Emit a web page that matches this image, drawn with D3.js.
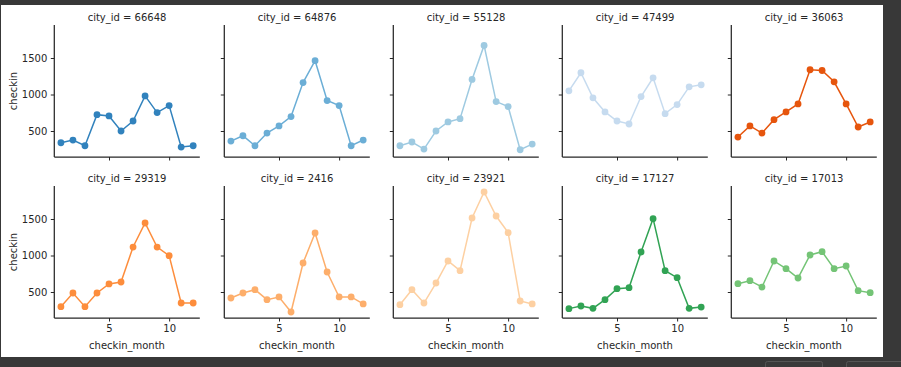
<!DOCTYPE html>
<html>
<head>
<meta charset="utf-8">
<script src="https://cdn.jsdelivr.net/npm/d3@7"></script>
<style>
  html, body { margin: 0; padding: 0; background: #383838; }
  svg { display: block; }
  text { font-family: "DejaVu Sans", sans-serif; fill: #262626; }
</style>
</head>
<body>
<svg id="chart" width="901" height="367"></svg>
<script>
// ---- data ----
const months = [1,2,3,4,5,6,7,8,9,10,11,12];
const cityIds = ["66648","64876","55128","47499","36063","29319","2416","23921","17127","17013"];
const checkin_66648 = [339,376,298,724,706,500,637,981,752,848,280,298];
const checkin_64876 = [362,435,298,472,569,697,1164,1463,917,848,298,376];
const checkin_55128 = [298,349,252,500,624,669,1206,1673,903,834,243,321];
const checkin_47499 = [1050,1298,954,761,637,596,972,1229,738,862,1105,1133];
const checkin_36063 = [417,569,472,655,761,871,1339,1329,1174,871,555,624];
const checkin_29319 = [299,486,299,486,610,637,1116,1445,1116,998,349,349];
const checkin_2416  = [418,486,532,395,432,226,897,1308,774,432,432,336];
const checkin_23921 = [326,532,349,623,925,792,1514,1870,1541,1313,377,336];
const checkin_17127 = [272,308,276,395,546,559,1048,1505,792,696,276,294];
const checkin_17013 = [614,655,568,925,820,692,1007,1052,820,856,518,491];
const seriesValues = [checkin_66648, checkin_64876, checkin_55128, checkin_47499, checkin_36063,
                      checkin_29319, checkin_2416, checkin_23921, checkin_17127, checkin_17013];
const colors = ["#3182bd","#6baed6","#9ecae1","#c6dbef","#e6550d",
                "#fd8d3c","#fdae6b","#fdd0a2","#31a354","#74c476"];
const xTicks = [5, 10];
const yTicks = [500, 1000, 1500];

// ---- layout ----
const svg = d3.select("#chart");
svg.append("rect").attr("x", 0).attr("y", 0).attr("width", 901).attr("height", 367).attr("fill", "#383838");
svg.append("rect").attr("x", 1).attr("y", 5).attr("width", 882).attr("height", 352).attr("fill", "#ffffff");

// bottom-right UI buttons (partially visible)
[[765, 57], [846, 60]].forEach(([bx, bw]) => {
  svg.append("rect").attr("x", bx + 0.5).attr("y", 361.5).attr("width", bw).attr("height", 12).attr("rx", 2)
    .attr("fill", "#3a3a3a").attr("stroke", "#555").attr("stroke-width", 1);
});

const panelW = 145.5, panelH = 132;
const lefts = [54.3, 224.3, 393.3, 562.3, 731.3];
const tops = [25, 186];

const allVals = seriesValues.flat();
const vmin = d3.min(allVals), vmax = d3.max(allVals);
const pad = (vmax - vmin) * 0.05;
const yDomain = [vmin - pad, vmax + pad];
const xDomain = [1 - 0.55, 12 + 0.55];

const ink = "#262626";

cityIds.forEach((cid, i) => {
  const row = Math.floor(i / 5), col = i % 5;
  const x0 = lefts[col], y0 = tops[row];
  const g = svg.append("g").attr("transform", `translate(${x0},${y0})`);
  const x = d3.scaleLinear().domain(xDomain).range([0, panelW]);
  const y = d3.scaleLinear().domain(yDomain).range([panelH, 0]);

  const xAxis = d3.axisBottom(x).tickValues(xTicks).tickSize(3.5).tickPadding(3.5)
    .tickFormat(row === 1 ? d3.format("d") : () => "");
  const yAxis = d3.axisLeft(y).tickValues(yTicks).tickSize(3.5).tickPadding(3.5)
    .tickFormat(col === 0 ? d3.format("d") : () => "");

  const gx = g.append("g").attr("transform", `translate(0,${panelH})`).call(xAxis);
  const gy = g.append("g").call(yAxis);
  [gx, gy].forEach(a => {
    a.select(".domain").remove();
    a.selectAll("line").attr("stroke", ink).attr("stroke-width", 1);
    a.selectAll("text").attr("font-size", 10).attr("fill", ink).style("font-family", '"DejaVu Sans", sans-serif');
  });
  // spines
  g.append("line").attr("x1", 0).attr("x2", 0).attr("y1", 0).attr("y2", panelH)
    .attr("stroke", ink).attr("stroke-width", 1.25);
  g.append("line").attr("x1", 0).attr("x2", panelW).attr("y1", panelH).attr("y2", panelH)
    .attr("stroke", ink).attr("stroke-width", 1.25);

  const vals = seriesValues[i];
  const pts = months.map((m, k) => [m, vals[k]]);
  g.append("path").datum(pts)
    .attr("d", d3.line().x(d => x(d[0])).y(d => y(d[1])))
    .attr("fill", "none").attr("stroke", colors[i]).attr("stroke-width", 1.5);
  g.selectAll("circle").data(pts).enter().append("circle")
    .attr("cx", d => x(d[0])).attr("cy", d => y(d[1])).attr("r", 3.4)
    .attr("fill", colors[i]);

  g.append("text").attr("x", panelW / 2).attr("y", -4.5).attr("text-anchor", "middle")
    .attr("font-size", 10).text(`city_id = ${cid}`);

  if (col === 0) {
    g.append("text").attr("transform", `translate(${-37},${panelH / 2}) rotate(-90)`)
      .attr("text-anchor", "middle").attr("font-size", 10).text("checkin");
  }
  if (row === 1) {
    g.append("text").attr("x", panelW / 2).attr("y", panelH + 31).attr("text-anchor", "middle")
      .attr("font-size", 10).text("checkin_month");
  }
});
</script>
</body>
</html>
